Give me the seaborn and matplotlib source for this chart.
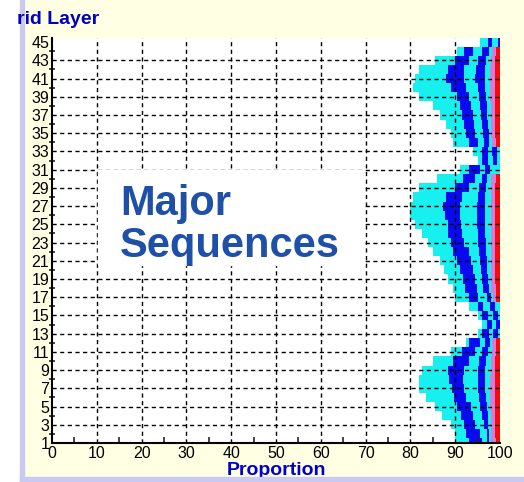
import numpy as np
import pandas as pd
import seaborn as sns
import matplotlib.pyplot as plt
from matplotlib.patches import Rectangle
from matplotlib.ticker import MultipleLocator

# grid layers, bottom to top
layers = list(range(1, 46))

# start of each colour band (proportion, %) for every layer 1..45
cyan1_start = [90, 90, 89, 87, 85.5, 83.5, 82, 82, 82.5, 85, 89, 92.5, 95, 96, 95,
               93, 90, 89.5, 88.5, 87.5, 86.5, 85, 84, 82.5, 81, 80, 80, 80.5, 82,
               86, 91, 95, 94, 89.5, 89, 88, 86.5, 85, 82, 80.5, 81, 82, 85.5, 90.5, 95.5]
blue1_start = [93, 92.5, 92, 91.2, 90.5, 89.8, 89.2, 88.6, 88.4, 89.5, 91.5, 93, 96, 97, 96,
               95, 93, 92.2, 91.7, 91, 90.3, 89.5, 89, 88.5, 88.3, 87.8, 87.3, 88, 90,
               91.8, 93, 96, 96, 93, 92.5, 92, 91.5, 91, 90.5, 89, 88, 88.4, 90, 92, 97.3]
cyan2_start = [96, 95.5, 94.5, 94, 93.5, 92.5, 92, 91.8, 92, 93, 94.5, 95.5, 97.5, 98.3, 97.3,
               96.2, 95, 94.8, 94.5, 94, 93.5, 93, 92, 91.5, 91.3, 91, 91, 91.5, 93,
               94.5, 95.5, 97.3, 97.3, 95, 94.5, 94.2, 94, 93.5, 93, 92.3, 92, 92, 93, 94, 98.2]
blue2_start = [97.2, 97, 96.5, 96, 95.5, 95.3, 95, 95, 95, 95.3, 96, 96.7, 98.5, 99, 98.4,
               97.8, 97, 96.3, 96, 95.8, 95.5, 95.3, 95.1, 95, 94.9, 94.9, 94.9, 95, 95.3,
               96, 96.7, 98.5, 98.3, 96.5, 96.2, 96, 95.7, 95.5, 95.3, 95, 94.5, 94.6, 95, 96, 99.5]
cyan3_start = [97.6, 97.5, 97.4, 97.3, 97, 96.8, 96.7, 96.7, 96.7, 96.8, 97.3, 97.8, 99.5, 100, 99.5,
               98.9, 97.9, 97.5, 97.3, 97.1, 97, 96.9, 96.8, 96.7, 96.7, 96.7, 96.7, 96.7, 96.8,
               97.2, 97.8, 99.4, 99.3, 97.6, 97.5, 97.3, 97.1, 97, 96.8, 96.7, 96.7, 96.7, 96.8, 97.5, 100]
pink_start = [98, 98, 97.9, 97.9, 97.8, 97.8, 97.8, 97.8, 97.9, 98, 98.2, 98.3, 100, 100, 100,
              100, 98.4, 98.1, 98, 98, 97.9, 97.9, 97.9, 97.9, 97.9, 97.9, 97.9, 98, 98,
              98.1, 100, 100, 100, 98.2, 98, 98, 97.9, 97.9, 97.8, 97.8, 97.8, 97.8, 97.9, 98.2, 100]
red_start = [99, 98.9, 98.9, 98.8, 98.8, 98.8, 98.8, 98.8, 98.8, 98.9, 99, 99.1, 100, 100, 100,
             100, 99.2, 99, 98.9, 98.9, 98.8, 98.8, 98.8, 98.8, 98.8, 98.8, 98.8, 98.9, 98.9,
             99, 100, 100, 100, 99.1, 98.9, 98.9, 98.8, 98.8, 98.8, 98.8, 98.8, 98.8, 98.9, 99, 100]
full = [100] * 45

CYAN = "#18F0F0"
BLUE = "#0A0AF0"
PINK = "#D87AD8"
RED = "#F80A0A"
YELLOW = "#FFFFE3"
LAVENDER = "#C9C9F2"

df = pd.DataFrame({
    "layer": layers,
    "red": full,
    "pink": red_start,
    "cyan3": pink_start,
    "blue2": cyan3_start,
    "cyan2": blue2_start,
    "blue1": cyan2_start,
    "cyan1": blue1_start,
    "blank": cyan1_start,
})
bands = [("red", RED), ("pink", PINK), ("cyan3", CYAN), ("blue2", BLUE),
         ("cyan2", CYAN), ("blue1", BLUE), ("cyan1", CYAN), ("blank", "white")]

sns.set_style("white")
plt.rcParams["font.family"] = ["Liberation Sans", "DejaVu Sans"]

fig = plt.figure(figsize=(5.24, 4.82), dpi=100, facecolor=YELLOW)
ax = fig.add_axes([52 / 524, 1 - 443 / 482, 448 / 524, 405.5 / 482])

# bars overlap from the right end leftwards
for col, colour in bands:
    sns.barplot(data=df, x=col, y="layer", orient="y", native_scale=True,
                width=1.0, color=colour, saturation=1, linewidth=0, ax=ax)

ax.set_xlim(0, 100)
ax.set_ylim(1, 45.5)
ax.set_facecolor("white")
ax.xaxis.set_major_locator(MultipleLocator(10))
ax.xaxis.set_minor_locator(MultipleLocator(5))
ax.set_yticks(range(1, 46, 2))
ax.set_yticks(range(2, 46, 2), minor=True)
ax.set_axisbelow(False)
ax.grid(False)
for v in range(10, 100, 10):
    ax.axvline(v, color="black", lw=1, ls=(0, (3, 2.5)), zorder=3)
for v in range(3, 45, 2):
    ax.axhline(v, color="black", lw=1, ls=(0, (3, 2.5)), zorder=3)

ax.tick_params(axis="both", which="major", length=0, labelsize=11.5,
               colors="black", pad=2)
ax.tick_params(axis="x", which="minor", direction="in", length=4, width=1.2,
               bottom=True)
ax.tick_params(axis="y", which="minor", direction="inout", length=5, width=1.2,
               left=True)
for side in ["top", "right"]:
    ax.spines[side].set_visible(False)
for side in ["left", "bottom"]:
    ax.spines[side].set_color("black")
    ax.spines[side].set_linewidth(1.5)
    ax.spines[side].set_zorder(4)

ax.set_xlabel("Proportion", fontsize=14, fontweight="bold", color="#0000CC",
              labelpad=1)
ax.set_ylabel("")

# window frame pieces
fig.patches.append(Rectangle((0, 0), 20 / 524, 1, transform=fig.transFigure,
                             color="white", zorder=0))
fig.patches.append(Rectangle((20 / 524, 0), 4 / 524, 1, transform=fig.transFigure,
                             color=LAVENDER, zorder=0))
fig.patches.append(Rectangle((20 / 524, 0), 1, 5 / 482, transform=fig.transFigure,
                             color=LAVENDER, zorder=0))

fig.text(17 / 524, 1 - 20 / 482, "rid Layer", fontsize=14, fontweight="bold",
         color="#0000C0", va="center", ha="left")

# text box overlay
fig.patches.append(Rectangle((98 / 524, 1 - 265 / 482), 264 / 524, 95 / 482,
                             transform=fig.transFigure, color="white", zorder=5))
fig.text(120 / 524, 1 - 204 / 482, "Major", fontsize=30, fontweight="bold",
         color="#1F50A8", va="center", ha="left", zorder=6)
fig.text(120 / 524, 1 - 246 / 482, "Sequences", fontsize=30, fontweight="bold",
         color="#1F50A8", va="center", ha="left", zorder=6)

fig.savefig("out.png", dpi=100, facecolor=YELLOW)
